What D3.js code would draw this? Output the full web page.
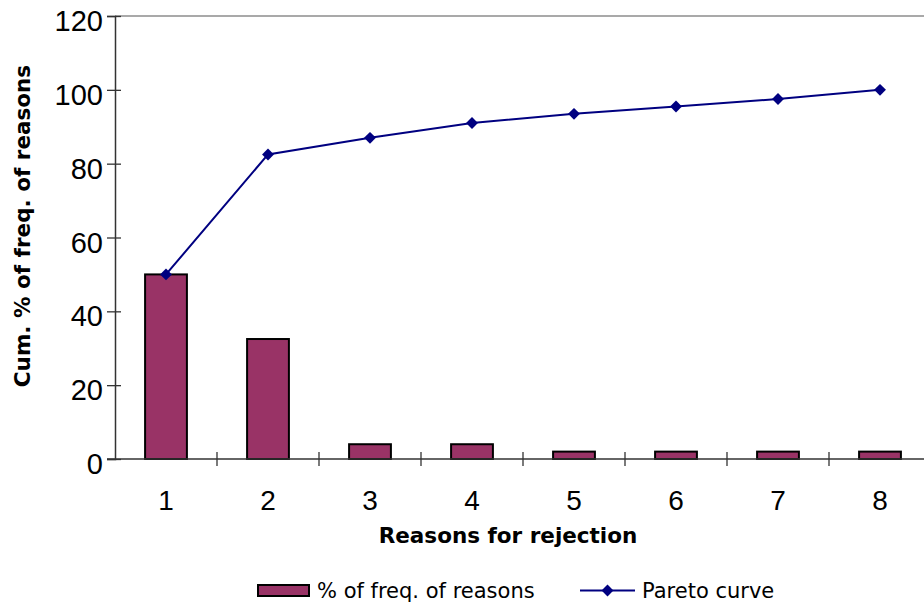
<!DOCTYPE html>
<html>
<head>
<meta charset="utf-8">
<script src="https://cdn.jsdelivr.net/npm/d3@7"></script>
<style>
  body { margin: 0; background: #fff; }
  svg { display: block; }
</style>
</head>
<body>
<div id="chart"></div>
<script>
// data
const reasons = ["1", "2", "3", "4", "5", "6", "7", "8"];
const freqPct = [50, 32.5, 4, 4, 2, 2, 2, 2];
const paretoPct = [50, 82.5, 87, 91, 93.5, 95.5, 97.5, 100];
const yTicks = [0, 20, 40, 60, 80, 100, 120];

const W = 924, H = 604;
const margin = { left: 115, right: 931, top: 16, bottom: 459 };

const svg = d3.select("#chart")
    .append("svg")
    .attr("width", W)
    .attr("height", H);

/* scales */
const x = d3.scaleBand()
    .domain(reasons)
    .range([margin.left, margin.right])
    .padding(0);

const y = d3.scaleLinear()
    .domain([0, 120])
    .range([margin.bottom, margin.top]);

const barW = x.bandwidth() * 0.41;

// top border of the plot area
svg.append("line")
    .attr("x1", margin.left).attr("x2", W)
    .attr("y1", y(120)).attr("y2", y(120))
    .attr("stroke", "#8c8c8c")
    .attr("stroke-width", 1.5);

/* bars */
svg.selectAll("rect.bar")
    .data(freqPct)
    .enter()
    .append("rect")
    .attr("class", "bar")
    .attr("x", (d, i) => x(reasons[i]) + (x.bandwidth() - barW) / 2)
    .attr("y", d => y(d))
    .attr("width", barW)
    .attr("height", d => y(0) - y(d))
    .attr("fill", "#993366")
    .attr("stroke", "#000")
    .attr("stroke-width", 2);

/* Y-axis */
const yAxis = svg.append("g")
    .attr("transform", `translate(${margin.left}, 0)`)
    .call(d3.axisLeft(y).tickValues(yTicks).tickSize(8).tickPadding(4));

yAxis.select(".domain").attr("stroke", "#333").attr("stroke-width", 1.5);
yAxis.selectAll(".tick line").attr("x1", 6).attr("stroke", "#333").attr("stroke-width", 1.3);
yAxis.selectAll(".tick text")
    .attr("font-family", "Liberation Sans, Arial, sans-serif")
    .attr("font-size", 29)
    .attr("fill", "#000")
    .attr("dy", "0.5em");

/* X-axis */
const xAxis = svg.append("g")
    .attr("transform", `translate(0, ${margin.bottom})`)
    .call(d3.axisBottom(x).tickSize(0).tickPadding(31));

xAxis.select(".domain").remove();
xAxis.append("line")
    .attr("x1", margin.left - 8).attr("x2", W)
    .attr("stroke", "#333").attr("stroke-width", 1.5);

// boundary ticks between categories
xAxis.selectAll("line.cat")
    .data(reasons)
    .enter()
    .append("line")
    .attr("class", "cat")
    .attr("x1", d => x(d) + x.bandwidth())
    .attr("x2", d => x(d) + x.bandwidth())
    .attr("y1", -7).attr("y2", 7)
    .attr("stroke", "#333").attr("stroke-width", 1.3);

xAxis.selectAll(".tick text")
    .attr("font-family", "Liberation Sans, Arial, sans-serif")
    .attr("font-size", 28)
    .attr("fill", "#000");

/* Pareto curve */
const line = d3.line()
    .x((d, i) => x(reasons[i]) + x.bandwidth() / 2)
    .y(d => y(d));

svg.append("path")
    .datum(paretoPct)
    .attr("d", line)
    .attr("fill", "none")
    .attr("stroke", "#000080")
    .attr("stroke-width", 2);

const diamond = d3.symbol().type(d3.symbolDiamond2).size(90);

svg.selectAll("path.marker")
    .data(paretoPct)
    .enter()
    .append("path")
    .attr("class", "marker")
    .attr("d", diamond)
    .attr("transform", (d, i) => `translate(${x(reasons[i]) + x.bandwidth() / 2}, ${y(d)})`)
    .attr("fill", "#000080");

/* axis titles */
svg.append("text")
    .attr("text-anchor", "middle")
    .attr("x", 508)
    .attr("y", 543)
    .attr("font-family", "DejaVu Sans, Verdana, sans-serif")
    .attr("font-weight", "bold")
    .attr("font-size", 21.5)
    .text("Reasons for rejection");

svg.append("text")
    .attr("text-anchor", "middle")
    .attr("transform", "rotate(-90)")
    .attr("x", -226)
    .attr("y", 30)
    .attr("font-family", "DejaVu Sans, Verdana, sans-serif")
    .attr("font-weight", "bold")
    .attr("font-size", 21.5)
    .text("Cum. % of freq. of reasons");

/* legend */
const legend = svg.append("g");

legend.append("rect")
    .attr("x", 258).attr("y", 585)
    .attr("width", 51).attr("height", 11)
    .attr("fill", "#993366")
    .attr("stroke", "#000")
    .attr("stroke-width", 2);

legend.append("text")
    .attr("x", 317).attr("y", 598)
    .attr("font-family", "DejaVu Sans, Verdana, sans-serif")
    .attr("font-size", 21)
    .text("% of freq. of reasons");

legend.append("line")
    .attr("x1", 580).attr("x2", 635)
    .attr("y1", 590.5).attr("y2", 590.5)
    .attr("stroke", "#000080")
    .attr("stroke-width", 2);

legend.append("path")
    .attr("d", diamond)
    .attr("transform", "translate(607.5, 590.5)")
    .attr("fill", "#000080");

legend.append("text")
    .attr("x", 642).attr("y", 598)
    .attr("font-family", "DejaVu Sans, Verdana, sans-serif")
    .attr("font-size", 21)
    .text("Pareto curve");
</script>
</body>
</html>
